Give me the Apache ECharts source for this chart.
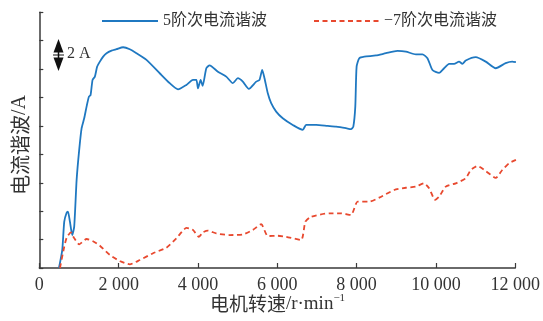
<!DOCTYPE html>
<html>
<head>
<meta charset="utf-8">
<script src="https://cdn.jsdelivr.net/npm/echarts@6/dist/echarts.min.js"></script>
<style>html,body{margin:0;padding:0;background:#fff}#c{width:543px;height:321px}</style>
</head>
<body>
<div id="c"></div>
<script>
// speed (r/min) and current (A) for the 5th-order harmonic
var rpm5 = [496,579,629,689,722,772,830,880,941,1006,1067,1132,1192,1250,1293,1343,1401,1459,1527,1610,1696,1821,1947,2113,2282,2450,2702,3036,3288,3497,3708,3874,3960,4000,4068,4118,4211,4294,4503,4714,4880,5006,5132,5283,5469,5552,5620,5678,5761,5846,5972,6138,6390,6641,6727,6979,7270,7482,7733,7859,7917,7967,8000,8068,8194,8488,8740,9031,9243,9494,9660,9786,9912,10080,10206,10332,10458,10583,10667,10752,11004,11255,11507,11758,11924,12017];
var amp5 = [0,1.27,3.26,3.89,3.96,3.26,2.32,2.91,6.20,8.31,9.84,10.54,11.36,12.06,12.18,13.24,13.47,14.18,14.53,14.88,15.12,15.30,15.40,15.54,15.40,15.12,14.65,13.71,13.01,12.58,12.89,13.24,13.24,12.65,13.24,12.82,14.06,14.27,13.82,13.47,13.01,13.36,13.12,12.61,13.12,13.24,13.94,13.36,12.30,11.60,11.01,10.54,10.07,9.72,10.07,10.07,10.00,9.95,9.84,9.77,9.95,11.36,14.18,14.77,14.88,14.96,15.12,15.28,15.23,15.04,15.04,14.77,13.94,13.73,14.06,14.37,14.37,14.53,14.37,14.61,14.84,14.53,14.06,14.42,14.53,14.49];
// speed (r/min) and current (A) for the -7th-order harmonic
var rpm7 = [521,621,689,797,873,1006,1192,1343,1527,1779,2030,2282,2533,2868,3205,3457,3708,3791,3874,4025,4126,4252,4463,4797,5132,5384,5595,5761,6013,6224,6601,6709,6853,7313,7607,7859,8025,8319,8571,8948,9243,9494,9703,9829,9980,10080,10249,10500,10752,10878,11044,11255,11507,11673,11841,12017];
var amp7 = [0,1.39,2.13,2.51,2.13,1.67,2.04,1.90,1.57,0.92,0.49,0.26,0.56,1.04,1.43,2.09,2.82,2.78,2.68,2.20,2.51,2.63,2.43,2.32,2.36,2.68,3.08,2.25,2.27,2.20,1.97,3.26,3.61,3.85,3.85,3.73,4.67,4.67,4.95,5.49,5.65,5.73,5.96,5.61,4.79,5.02,5.73,5.96,6.32,6.90,7.18,6.83,6.34,6.90,7.37,7.61];
var seriesNames = ['5阶次电流谐波', '−7阶次电流谐波'];
var xTickLabels = ['0','2 000','4 000','6 000','8 000','10 000','12 000'];

function pairs(xs, ys){ var o=[]; for(var i=0;i<xs.length;i++) o.push([xs[i], ys[i]]); return o; }

var axisColor = '#3a3a3a';
var serif = '"Liberation Serif","Noto Sans CJK SC",serif';
var chart = echarts.init(document.getElementById('c'), null, {renderer:'canvas'});
var hiddenSymbol = {color:'rgba(0,0,0,0)', borderWidth:0, opacity:0};
chart.setOption({
  animation: false,
  grid: {left: 39.3, right: 26.7, top: 12.3, bottom: 53, containLabel: false},
  legend: [
    {data:[seriesNames[0]], left: 101, top: 13, padding: 0, itemWidth: 56, itemHeight: 14, itemGap: 6,
     itemStyle: hiddenSymbol,
     textStyle:{fontFamily: serif, fontSize: 16, color:'#333'}},
    {data:[seriesNames[1]], left: 313, top: 13, padding: 0, itemWidth: 65, itemHeight: 14,
     itemStyle: hiddenSymbol,
     textStyle:{fontFamily: serif, fontSize: 16, color:'#333'}}
  ],
  xAxis: {
    type: 'value', min: 0, max: 12000, interval: 2000,
    axisLine: {show: true, lineStyle: {color: axisColor, width: 1.5}},
    axisTick: {show: true, inside: true, length: 5, lineStyle: {color: axisColor, width: 1.2}},
    axisLabel: {fontFamily: serif, fontSize: 18, color: '#333', margin: 8,
      formatter: function(v){ return xTickLabels[Math.round(v/2000)]; }},
    splitLine: {show: false}
  },
  yAxis: {
    type: 'value', min: 0, max: 18, interval: 2,
    axisLine: {show: true, lineStyle: {color: axisColor, width: 1.5}},
    axisTick: {show: true, inside: true, length: 4, lineStyle: {color: axisColor, width: 1.2}},
    axisLabel: {show: false},
    splitLine: {show: false}
  },
  graphic: [
    {type:'polygon', shape:{points:[[58.5,39],[53.5,52.5],[63.5,52.5]]}, style:{fill:'#111'}},
    {type:'polygon', shape:{points:[[58.5,71],[53.5,57.5],[63.5,57.5]]}, style:{fill:'#111'}},
    {type:'line', shape:{x1:58.5,y1:50,x2:58.5,y2:60}, style:{stroke:'#111', lineWidth:1.5}},
    {type:'line', shape:{x1:53,y1:55,x2:64,y2:55}, style:{stroke:'#111', lineWidth:1}},
    {type:'text', left: 67, top: 46, style:{text:'2 A', font:'16px "Liberation Serif"', fill:'#333'}},
    {type:'text', x: 20, y: 145, rotation: Math.PI/2,
     style:{text:'{c|电流谐波}{l|/A}', align:'center', verticalAlign:'middle', fill:'#333',
       rich:{c:{fontFamily:'"Noto Sans CJK SC"', fontSize:20, fill:'#333'}, l:{fontFamily:'"Liberation Serif"', fontSize:20, fill:'#333'}}}},
    {type:'text', x: 277.5, y: 304,
     style:{text:'{c|电机转速}{l|/r·min}{s|−1}', align:'center', verticalAlign:'middle', fill:'#333',
       rich:{c:{fontFamily:'"Noto Sans CJK SC"', fontSize:19, fill:'#333', lineHeight:22},
             l:{fontFamily:'"Liberation Serif"', fontSize:19, fill:'#333', lineHeight:22},
             s:{fontFamily:'"Liberation Serif"', fontSize:11, fill:'#333', verticalAlign:'top', lineHeight:12}}}}
  ],
  series: [
    {name: seriesNames[0], type: 'line', data: pairs(rpm5, amp5), symbol: 'none', smooth: 0.2,
     lineStyle: {color: '#1f78c1', width: 1.8}, itemStyle: {color: '#1f78c1'}},
    {name: seriesNames[1], type: 'line', data: pairs(rpm7, amp7), symbol: 'none', smooth: 0.2,
     lineStyle: {color: '#e8492f', width: 1.8, type: [5, 3.5]}, itemStyle: {color: '#e8492f'}}
  ]
});
</script>
</body>
</html>
